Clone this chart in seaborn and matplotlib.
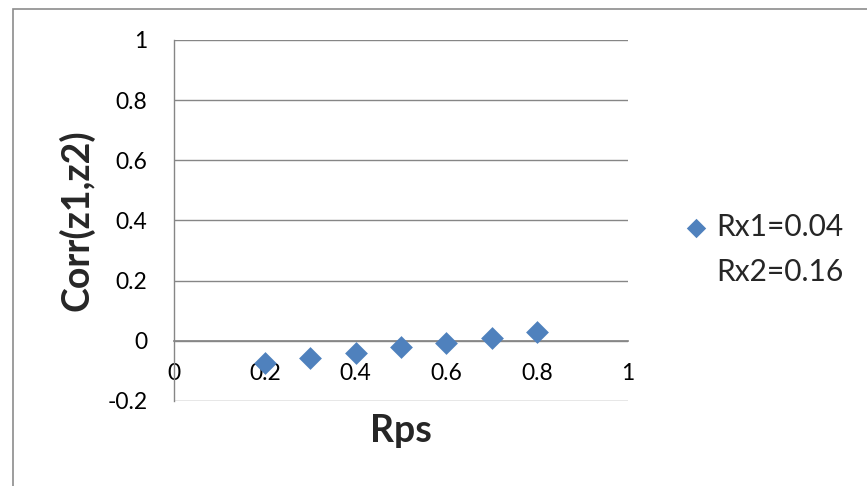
import matplotlib
matplotlib.use("Agg")
import matplotlib.pyplot as plt
from matplotlib.patches import Rectangle
import seaborn as sns
import pandas as pd

# Correlation between z1 and z2 as a function of Rps
rps = [0.2, 0.3, 0.4, 0.5, 0.6, 0.7, 0.8]
corr = [-0.074, -0.058, -0.039, -0.022, -0.007, 0.011, 0.028]
series_names = ["Rx1=0.04", "Rx2=0.16"]
x_ticks = [0, 0.2, 0.4, 0.6, 0.8, 1]
x_tick_labels = ["0", "0.2", "0.4", "0.6", "0.8", "1"]
y_ticks = [-0.2, 0, 0.2, 0.4, 0.6, 0.8, 1]
y_tick_labels = ["-0.2", "0", "0.2", "0.4", "0.6", "0.8", "1"]

df = pd.DataFrame({"Rps": rps, "Corr": corr})

sns.set_theme(style="white")
plt.rcParams["font.family"] = ["Lato", "DejaVu Sans"]

fig = plt.figure(figsize=(8.67, 4.86), dpi=100)
ax = fig.add_axes([0.2007, 0.1749, 0.5236, 0.7428])

blue = "#4F81BD"
grid_c = "#868686"

# the category axis crosses the value axis at zero
for side in ["top", "right"]:
    ax.spines[side].set_visible(False)
ax.spines["bottom"].set_position(("data", 0))
ax.spines["bottom"].set_color(grid_c)
ax.spines["left"].set_color(grid_c)
ax.spines["left"].set_linewidth(1)

sns.scatterplot(data=df, x="Rps", y="Corr", ax=ax, marker="D", s=135,
                color=blue, edgecolor=blue, linewidth=0, zorder=3,
                label=series_names[0])

ax.set_xlim(0, 1)
ax.set_ylim(-0.2, 1)
ax.set_xticks(x_ticks)
ax.set_yticks(y_ticks)
ax.set_xticklabels(x_tick_labels, fontsize=16.5)
ax.set_yticklabels(y_tick_labels, fontsize=16.5)
ax.tick_params(axis="both", length=0, colors="black")
ax.tick_params(axis="y", pad=19)
ax.tick_params(axis="x", pad=16)

# horizontal gridlines
for y in y_ticks:
    ax.axhline(y, color=grid_c, linewidth=1, zorder=1)

ax.set_xlabel("Rps", fontsize=27, fontweight="bold", va="center")
ax.set_ylabel("Corr(z1,z2)", fontsize=27, fontweight="bold", va="center")
ax.xaxis.set_label_coords(0.5, -0.083)
ax.yaxis.set_label_coords(-0.216, 0.5)

# legend: first series with marker, second entry has no visible marker
handles, _ = ax.get_legend_handles_labels()
empty = plt.Line2D([], [], linestyle="none", marker=None)
leg = ax.legend(handles + [empty], series_names, loc="center left",
                bbox_to_anchor=(1.06, 0.42), frameon=False,
                prop={"size": 21.5},
                handletextpad=0.25, handlelength=0.9, labelspacing=0.55,
                markerscale=0.85)

# outer chart frame
fig.patches.append(Rectangle((13 / 867, -0.1), 1.2, 1 - 9 / 486 + 0.1,
                             transform=fig.transFigure, fill=False,
                             edgecolor="#8c8c8c", linewidth=1.2))

fig.savefig("out.png", dpi=100)
